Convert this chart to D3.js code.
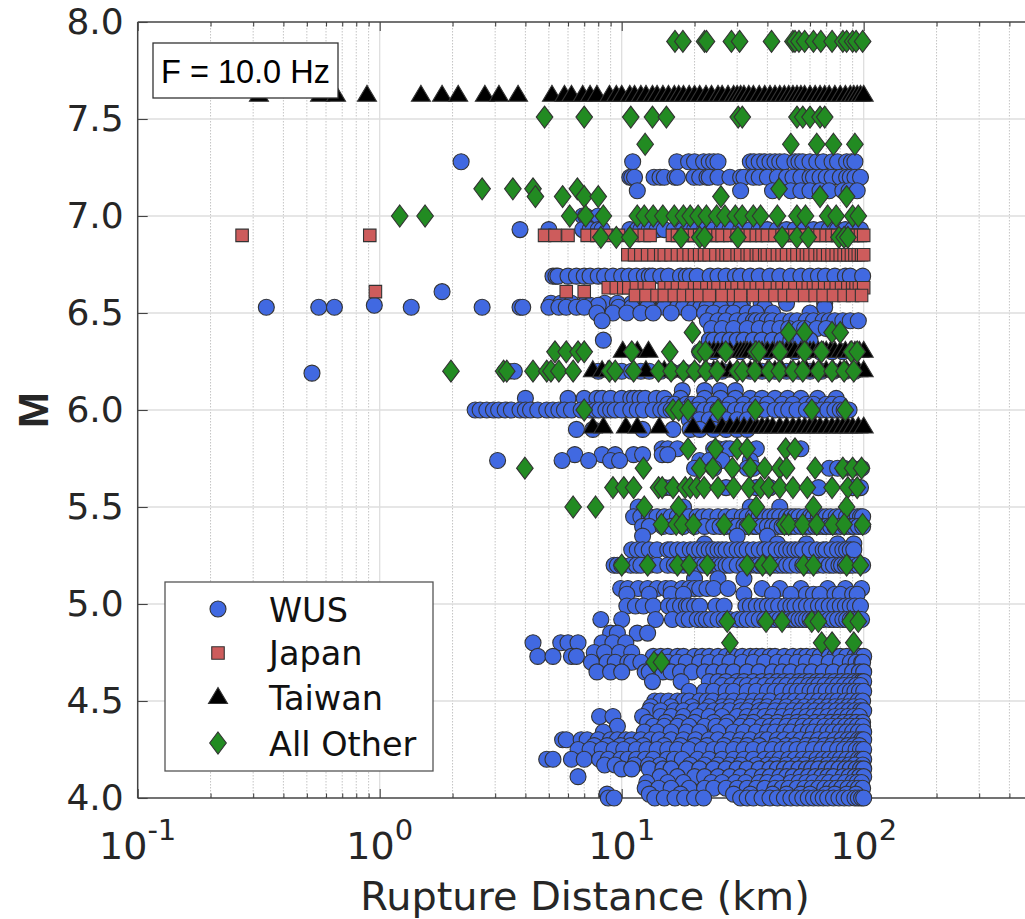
<!DOCTYPE html>
<html lang="en">

<head>
  <meta charset="utf-8">
  <title>Magnitude vs rupture distance</title>
  <script src="https://cdn.jsdelivr.net/npm/d3@7"></script>
  <style>
    body { margin: 0; background: #fff; }
    svg { display: block; }
    text { fill: #262626; font-family: "DejaVu Sans", sans-serif; }
  </style>
</head>

<body>
  <script>

    // Tick values and labels
    const xMajor = [0.1, 1, 10, 100];
    const xExponents = ["-1", "0", "1", "2"];
    const xMinor = [0.2, 0.3, 0.4, 0.5, 0.6, 0.7, 0.8, 0.9, 2, 3, 4, 5, 6, 7, 8, 9, 20, 30, 40, 50, 60, 70, 80, 90, 200, 300, 400, 500];
    const yTicks = [4, 4.5, 5, 5.5, 6, 6.5, 7, 7.5, 8];

    const legendNames = ["WUS", "Japan", "Taiwan", "All Other"];

    // One row per magnitude: [M, [rupture distances in km]]
    const wusRows = [
      [7.28, [2.17, 11.1, 16.9, 18.9, 20, 21.8, 23, 24, 25, 34, 35.2, 37, 39, 41, 43, 45, 47, 52, 54, 56, 60, 64, 68, 74, 78, 85, 89, 92]],
      [7.2, [10.8, 11, 11.3, 13.6, 14.4, 15, 16.6, 17, 19.9, 21, 22.5, 23, 25, 28, 31, 32, 35, 37, 40, 44, 48, 51, 55, 60, 62, 66, 70, 74, 80, 85, 88, 92, 97]],
      [7.13, [11.6, 31, 42, 50, 55, 60, 66, 72, 82, 87, 94]],
      [7, [6.9, 7.1, 8]],
      [6.93, [3.8, 5, 6.9, 7.4, 8, 8.3, 10.8, 11.6, 12, 13, 14, 15, 16.5, 18, 20, 22, 24, 26, 28, 31, 34, 37, 40, 44, 48, 52, 57, 62, 67, 72, 78, 84, 90, 97]],
      [6.69, [5.2, 5.35, 5.45, 6, 6.5, 7, 7.4, 8, 8.5, 9.2, 10, 10.7, 11.5, 12.4, 13, 13.4, 14.5, 15.6, 17.5, 18.5, 19.2, 20.5, 23.2, 25, 27, 29.5, 31, 34, 37, 41, 45, 50, 55, 60, 65, 69.5, 76, 84, 88, 99]],
      [6.61, [1.81]],
      [6.55, [5.1, 5.6, 6.2, 7.1, 8.5, 9.6, 11, 12.8, 15, 17, 18.3, 22, 23.5, 27.5, 31.5, 37.7, 48, 69]],
      [6.54, [0.95, 7.4, 8]],
      [6.53, [0.34, 0.56, 0.65, 1.35, 2.65, 3.8, 3.9, 5, 5.5, 5.9, 6.5, 7, 9.7, 11, 12.8, 15, 17, 18, 20, 21.2, 22.5, 25.6, 31, 39, 69]],
      [6.5, [7.9, 9.2, 10.5, 12, 13.5, 16, 19, 22, 24, 27, 29, 33, 36, 42, 60]],
      [6.46, [8.3, 22.6, 25, 27, 30, 32.5, 35, 36, 38, 40, 42, 46, 50, 53, 58, 62, 68, 72, 76, 82, 88, 95]],
      [6.42, [23.5, 26, 29, 33, 37, 41, 45, 49, 54, 57, 64, 70]],
      [6.36, [8.4, 23, 24, 26, 28, 30, 32, 35, 38, 42, 46, 50, 55, 60]],
      [6.3, [21, 24, 27, 31, 35, 40, 45, 52, 58, 66, 74, 82, 90]],
      [6.19, [0.525]],
      [6.2, [3.3, 3.4, 3.6, 8, 9, 10, 11, 12, 13, 14.5, 16, 18, 20, 23, 26, 30, 34, 38, 43, 48, 54, 60, 67, 75, 84, 92]],
      [6.1, [17.8, 22, 25.5, 29.5]],
      [6.06, [4, 6, 7, 7.9, 8.3, 9, 10, 10.9, 11.3, 11.9, 12.5, 13.9, 15, 17.5, 22, 25.6, 29.5, 34, 38, 43, 48.5, 55, 64.5, 77]],
      [6.03, [15.5, 16.5, 18.5, 19.5, 21, 24, 28, 32, 36, 40, 46, 51, 58, 62, 70, 74, 80]],
      [6, [2.48, 2.6, 2.77, 2.95, 3.1, 3.3, 3.5, 3.8, 4, 4.2, 4.5, 4.9, 5.2, 5.5, 5.8, 6.2, 6.8, 7.4, 7.8, 8.1, 8.6, 9, 9.4, 10, 10.9, 11.6, 12.3, 13.5, 14.5, 15.2, 16, 17.2, 18, 19.5, 20.5, 22, 23.5, 25, 27, 29.5, 31.5, 34, 36, 39, 43, 46, 49, 53, 58, 62, 67, 71, 76, 80, 83, 87]],
      [5.95, [19, 21, 23, 25, 27, 30, 33]],
      [5.9, [6.5, 7.6, 12.2, 16.3, 19.2, 21, 24, 27, 30, 33]],
      [5.8, [14.7, 15.5, 17, 24, 25, 27, 28, 36, 55]],
      [5.77, [6.4, 8.3, 9.4, 11.2, 12.2, 14.7, 15.5]],
      [5.74, [3.07, 5.67, 7.3, 9, 9.8, 21, 23, 26, 34]],
      [5.7, [20, 24, 33, 35, 72, 78, 83, 90, 98]],
      [5.6, [15, 16, 27, 36, 41, 65, 90, 97]],
      [5.5, [11.7, 18, 34, 45]],
      [5.45, [11.2, 12, 13, 14, 15, 16, 17, 18, 19, 20.5, 21.7, 23, 25, 27, 29, 31.5, 33, 35, 37, 39, 41, 43, 45, 48, 50, 52, 54, 57, 60, 62, 65, 67, 70, 73, 77, 80, 85, 89, 94, 97, 99]],
      [5.4, [12.2, 13, 14.8, 16, 18, 20, 22, 24, 25.5, 27, 28.5, 30, 32, 33, 35, 36, 38, 40, 42, 44, 46, 48, 50, 52, 55, 57.5, 60, 63, 65, 68, 70, 73, 76, 80, 84, 88, 91, 95, 99]],
      [5.35, [12.2, 30, 40]],
      [5.31, [22, 44, 58, 78, 91]],
      [5.28, [11, 11.6, 12.2, 13, 14, 15.5, 16, 17, 18, 19.2, 20, 21, 22, 23, 24, 25, 26, 27, 28.5, 30, 31.5, 33, 35, 37, 39, 41, 43.5, 46, 48, 50, 52, 54, 56, 60, 64, 68, 70, 74, 78, 82, 85, 88, 91]],
      [5.2, [9.3, 9.6, 10, 10.9, 11.5, 12, 13, 14, 15.5, 16.5, 18, 19.2, 20, 21, 22, 23.2, 24, 25, 26, 27, 28, 30, 32, 34, 36, 37, 38.5, 40, 42, 44, 46, 48, 50, 53, 56, 58, 60, 64, 68, 72, 75, 79, 81, 84, 87, 90, 95, 99]],
      [5.13, [20, 25, 32]],
      [5.08, [9.9, 10.6, 11.7, 12.8, 14, 15.2, 16, 17.8, 19, 20, 21, 22.5, 24, 27.5, 38, 45, 55, 71, 84, 98]],
      [5.05, [10.5, 13, 16, 18, 32, 42, 50, 58, 62, 66, 76, 80, 90, 94]],
      [4.99, [10.5, 11.4, 12.3, 13.5, 15.6, 16.5, 17.5, 18.5, 19, 20, 21, 24.5, 26.5, 32.6, 34, 36, 38, 40, 42, 44.5, 47.6, 50, 52, 55, 58, 61, 65, 68, 72, 76, 80, 84, 88, 92, 97]],
      [4.92, [8.2, 10, 13.8, 16.2, 18, 19, 20.5, 21.5, 22.4, 23.5, 25, 26.5, 28, 30, 31.5, 33, 35, 37, 39, 41, 43, 45, 47, 49, 51, 52, 54, 56, 58, 60, 62, 65, 68, 72, 75, 78, 82, 85, 88, 90, 92, 95, 98]],
      [4.85, [9, 9.6, 11.6, 12.8]],
      [4.8, [4.3, 5.6, 6, 6.6, 8.3, 9.2, 10.4]],
      [4.75, [7.7, 8.5, 9.8, 11]],
      [4.73, [4.5, 5.2, 6.2, 6.5, 13.5, 14.5, 15.5, 17, 18, 20, 21.5, 23, 25, 27, 29, 31.5, 34, 36, 38, 41, 43, 47, 51, 55, 58, 62, 66, 72, 76, 80, 85, 92, 96, 100]],
      [4.7, [7.5, 8.7, 9.4, 10.6, 11, 12, 14, 15.5, 17, 18.5, 21, 23, 25.5, 28, 31.5, 35, 39, 44, 48, 53, 58, 64, 72, 80, 88, 93, 98, 99]],
      [4.65, [7.9, 9, 10, 12.5, 13, 14.8, 16, 17.5, 19.5, 22, 24, 26.5, 29, 33, 37, 42, 46, 50, 56, 61, 68, 75, 84, 90, 96, 100]],
      [4.6, [13.4, 17.6, 23, 25, 27, 30, 32, 35, 38, 41, 44, 47, 50, 54, 57, 60, 64, 67, 72, 76, 81, 86, 91, 95, 98, 100]],
      [4.58, [26, 28.5, 31, 33, 36, 39, 42, 45, 48, 52, 55, 59, 62, 65, 69, 74, 78, 83, 88, 93, 97]],
      [4.55, [19, 22, 24, 27, 29, 33, 36, 40, 43, 46, 50, 53, 56, 60, 63, 67, 70, 75, 79, 84, 88, 92, 96, 100]],
      [4.5, [13.7, 14.5, 15.6, 17, 18, 19, 21, 22.5, 23.8, 26.7, 29, 32, 35, 38, 41, 46, 49, 52, 56, 61, 65, 70, 74, 78, 84, 89, 95, 99]],
      [4.47, [13.2, 16, 19.5, 23, 26, 28, 31, 34, 37, 40, 44, 48, 53, 57, 62, 66, 71, 76, 81, 86, 91, 97]],
      [4.45, [13, 14.5, 16.5, 18, 20, 22, 24, 26, 28, 31, 33, 37, 39, 43, 47, 51, 55, 59, 63, 68, 72, 77, 82, 87, 92, 97, 100]],
      [4.42, [8.1, 9.2, 12.2, 14.5, 16, 18, 20.6, 23, 26, 30, 33, 36, 39, 42, 46, 50, 54, 58, 62, 66, 71, 76, 81, 86, 91, 96]],
      [4.39, [12.8, 15.2, 17.5, 20, 24, 27.5, 32, 35, 40, 44, 49, 53, 57, 63, 68, 73, 78, 83, 88, 93, 99]],
      [4.37, [9.6, 13.5, 15, 17, 19, 22, 24.5, 27, 31, 34, 38, 41, 44, 48, 52, 56, 60, 64, 69, 74, 79, 84, 89, 94, 99]],
      [4.34, [8.4, 12.4, 14, 16, 18.5, 21, 25, 29, 32, 36, 40, 43, 47, 50, 55, 59, 62, 67, 71, 75, 80, 85, 90, 95, 100]],
      [4.3, [5.7, 5.9, 6.8, 7.2, 8, 9, 9.6, 10.4, 11, 12, 13.2, 14.3, 16, 18, 20.2, 23, 25, 28, 31, 34, 38, 40, 44, 47, 51, 55, 60, 65, 70, 76, 81, 86, 90, 95, 98, 100]],
      [4.27, [7.7, 8.7, 9.9, 10.9, 12.3, 15, 17.5, 20, 22.5, 26.5, 30, 33, 37, 43, 48, 52, 58, 63, 69, 74, 80, 86, 91, 96]],
      [4.25, [6.6, 7.4, 8.3, 9.3, 10.2, 11.5, 12.7, 14, 15.5, 17, 19, 21.5, 24, 26, 29, 32, 35, 39, 42, 46, 49, 53, 57, 62, 67, 72, 78, 83, 88, 93, 97, 100]],
      [4.2, [4.9, 5.2, 6.2, 7, 8.1, 8.8, 9.9, 10.6, 11.5, 12.5, 13.5, 15.4, 16.5, 17.8, 20.6, 23, 26, 29, 32, 35, 39, 42, 45, 49, 52, 56, 60, 64, 68, 72, 76, 80, 85, 90, 95, 98, 100]],
      [4.17, [8.5, 9.4, 11.3, 12.9, 14.4, 19.2, 22, 25, 28, 31, 36, 40, 43, 48, 53, 57, 63, 66, 71, 77, 82, 87, 92, 99]],
      [4.15, [10, 11, 13, 14.8, 16, 18.5, 21, 24, 27, 30, 33, 37, 41, 44, 47, 50, 54, 58, 61, 65, 70, 74, 79, 84, 88, 93, 97, 100]],
      [4.11, [6.6, 14.4, 17, 20, 22, 25, 28, 31, 34.5, 38, 41, 45, 48, 51, 55, 59, 63, 67, 71, 75, 82, 87, 92, 96, 100]],
      [4.08, [12.7, 15.5, 18, 23.5, 26, 29.5, 32.5, 37, 40, 44, 50, 54, 58, 62, 68, 72, 78, 84, 90, 94, 98]],
      [4.05, [12.5, 14.2, 16, 19, 22, 24, 27, 30, 33, 36, 39, 43, 46, 49, 53, 57, 61, 65, 69, 73, 77, 81, 86, 91, 95, 99]],
      [4.02, [8.7, 13, 17.5, 29, 34, 42, 48, 55, 60, 70, 76, 85, 93]],
      [4, [8.8, 9.3, 13.7, 15, 16.6, 18.2, 20, 21.8, 31, 33, 35, 38, 41, 44, 47, 50, 53, 56, 59, 62, 65, 68, 71, 75, 79, 83, 87, 92, 95, 98, 100]]
    ];

    const japanRows = [
      [6.9, [0.27, 0.91, 4.8, 5.3, 6, 7.2, 7.9, 8.6, 9.7, 11.2, 12.4, 13.1, 16.2, 17, 18, 19, 20, 21, 22, 23.5, 25, 26, 28, 30, 32, 34, 36, 38, 40, 43, 46, 49, 52, 55, 58, 62, 66, 70, 74, 78, 82, 86, 90, 94, 97, 100]],
      [6.8, [10.6, 11.3, 12, 12.8, 13.6, 14.5, 15, 16, 17, 18, 19, 20, 21, 22, 23, 24.5, 26, 27, 28, 30, 31, 33, 34, 36, 37, 39, 40, 42, 44, 46, 48, 51, 53, 56, 58, 60, 63, 66, 68, 71, 74, 77, 80, 83, 86, 89, 92, 95, 98, 100]],
      [6.63, [8.8, 9.5, 10.2, 10.7, 11.5, 12.4, 13, 15, 16, 17, 18.2, 20, 21, 22.5, 24, 25, 27, 28.5, 30, 32, 34, 36, 38, 41, 44, 46, 49, 52, 56, 59, 62, 65, 69, 73, 77, 81, 86, 90, 93, 96, 100]],
      [6.61, [0.96, 5.9, 7]],
      [6.59, [11.4, 12.6, 14, 15, 16.5, 18, 19.5, 21, 23, 26, 29, 31, 35, 39, 43, 47, 51, 57, 63, 68, 75, 83, 90, 98]]
    ];

    const taiwanRows = [
      [7.62, [0.317, 0.567, 0.66, 0.886, 1.48, 1.81, 2.11, 2.72, 3.11, 3.73, 5.15, 5.8, 6.2, 6.9, 7.4, 7.9, 8.9, 9.5, 10, 10.8, 11.3, 12, 12.6, 13.4, 14, 14.8, 15.6, 16.5, 17.2, 18, 19, 20, 21, 22.3, 23.5, 25, 26, 27.5, 29, 30, 31, 32, 33.5, 35, 37, 39, 41, 43, 45, 47, 49, 51, 53, 55, 57, 60, 63, 66, 69, 72, 76, 80, 84, 88, 91, 94, 97, 100]],
      [6.3, [10.1, 11.6, 12.9, 23, 24, 25, 26, 28, 30, 31, 32, 33, 34, 36, 37, 38, 40, 42, 44, 46, 48, 50, 52, 55, 58, 60, 62, 65, 68, 70, 73, 76, 80, 84, 88, 92, 96, 100]],
      [6.2, [7.6, 8.3, 8.8, 12.6, 15, 16, 18, 20, 22, 24, 26, 28, 30, 32, 34, 37, 40, 43, 46, 50, 54, 58, 62, 66, 70, 75, 80, 85, 90, 95, 100]],
      [5.91, [7.6, 8.4, 10.4, 11.6, 14.3, 19.7, 23.2, 26, 28, 30, 32, 34, 36, 38, 40, 42, 45, 48, 51, 54, 57, 60, 63, 66, 70, 74, 78, 82, 86, 90, 95, 100]]
    ];

    const otherRows = [
      [7.9, [16.6, 17.9, 22, 22.4, 28.4, 30.7, 41.6, 51, 52, 54, 57, 62, 66.5, 74, 82, 85, 90, 93, 99]],
      [7.51, [4.8, 7, 10.9, 13.4, 15.3, 30.3, 31.5, 53, 56, 60, 66, 69]],
      [7.37, [12.5, 50, 64, 75, 92]],
      [7.14, [2.65, 3.55, 4.3, 6.56, 44.7]],
      [7.1, [4.4, 5.7, 7, 8, 25.7, 66, 85]],
      [7, [1.21, 1.54, 6.1, 7.1, 8.4, 11.6, 12.4, 13.5, 14.8, 16.5, 18, 19.2, 20.7, 22.4, 24.7, 26.7, 29.5, 31.5, 35, 37.5, 44, 53, 57.5, 71, 77, 90, 95]],
      [6.89, [8.2, 9.5, 10.8, 17.6, 21, 22, 30.2, 46, 53, 59, 79, 83, 86]],
      [6.4, [19.6, 49, 57, 74, 80]],
      [6.3, [5.3, 5.9, 6.6, 7, 11, 15.8, 21, 22.2, 26.9, 35.8, 36.9, 45, 57, 67, 89, 94]],
      [6.2, [1.97, 3.25, 3.35, 4.3, 4.9, 5.1, 5.5, 6.3, 8.9, 9.4, 11.2, 14.2, 16, 18, 20, 22.3, 24.8, 30, 31.6, 35.5, 40.7, 44.8, 51, 56, 65, 74, 83, 91]],
      [6, [7, 16.3, 17.2, 18.8, 25, 35.7, 61, 84]],
      [5.8, [18.8, 24.4, 30, 33, 47.6, 52]],
      [5.7, [3.98, 12.3, 21, 23.8, 28.7, 34, 39, 45, 48, 63, 82, 90, 98]],
      [5.6, [9.2, 10.2, 11.2, 14.2, 14.7, 16.3, 18.3, 19.2, 20.4, 21.9, 25, 29, 33.6, 37.5, 40.5, 45, 51, 58.5, 74, 86, 94]],
      [5.5, [6.3, 7.8, 12.4, 17.2, 36, 62, 85]],
      [5.41, [14.6, 16.8, 17.8, 19.8, 26.5, 33.5, 47, 49, 56, 64, 74.5, 83, 99]],
      [5.2, [10, 12.8, 17, 19, 22.6, 33, 38.2, 41, 56.5, 62, 85, 97]],
      [4.91, [27.3, 39.5, 46, 61, 65, 88, 95]],
      [4.8, [28, 67, 74, 91]],
      [4.7, [13.6, 14.6]]
    ];

    // Plot area, the x axis runs past the right edge of the page like in the original
    const w = 1025;
    const h = 919;
    const xLeft = 137.7;
    const yTop = 22;
    const yBottom = 798;
    const decade = 242;

    const svg = d3.select("body")
      .append("svg")
      .attr("width", w)
      .attr("height", h);

    const x = d3.scaleLog()
      .domain([0.1, 10000])
      .range([xLeft, xLeft + 5 * decade]);

    const y = d3.scaleLinear()
      .domain([4, 8])
      .range([yBottom, yTop]);

    // Gridlines
    const grid = svg.append("g");
    grid.selectAll(".minor")
      .data(xMinor)
      .enter()
      .append("line")
      .attr("x1", d => x(d))
      .attr("x2", d => x(d))
      .attr("y1", yTop)
      .attr("y2", yBottom)
      .attr("stroke", "#c4c4c4")
      .attr("stroke-width", 1)
      .attr("stroke-dasharray", "1.5,1.5");
    grid.selectAll(".major")
      .data(xMajor.slice(1))
      .enter()
      .append("line")
      .attr("x1", d => x(d))
      .attr("x2", d => x(d))
      .attr("y1", yTop)
      .attr("y2", yBottom)
      .attr("stroke", "#dedede")
      .attr("stroke-width", 1.3);
    grid.selectAll(".horizontal")
      .data(yTicks.slice(1, -1))
      .enter()
      .append("line")
      .attr("x1", xLeft)
      .attr("x2", w)
      .attr("y1", d => y(d))
      .attr("y2", d => y(d))
      .attr("stroke", "#dedede")
      .attr("stroke-width", 1.3);

    // Axes, ticks point into the plot and are drawn on the top edge too
    function styleAxis(g) {
      g.selectAll("path").remove();
      g.selectAll("line").attr("stroke", "#444").attr("stroke-width", 1.1);
      g.selectAll("text").style("font-size", "36px").attr("fill", "#262626");
    }

    const xAxisMajor = d3.axisBottom(x).tickValues(xMajor).tickSize(-9).tickFormat("");
    const xAxisMinor = d3.axisBottom(x).tickValues(xMinor).tickSize(-4.5).tickFormat("");
    const xTopMajor = d3.axisTop(x).tickValues(xMajor).tickSize(-9).tickFormat("");
    const xTopMinor = d3.axisTop(x).tickValues(xMinor).tickSize(-4.5).tickFormat("");

    svg.append("g").attr("transform", `translate(0,${yBottom})`).call(xAxisMajor).call(styleAxis);
    svg.append("g").attr("transform", `translate(0,${yBottom})`).call(xAxisMinor).call(styleAxis);
    svg.append("g").attr("transform", `translate(0,${yTop})`).call(xTopMajor).call(styleAxis);
    svg.append("g").attr("transform", `translate(0,${yTop})`).call(xTopMinor).call(styleAxis);

    const yAxis = d3.axisLeft(y)
      .tickValues(yTicks)
      .tickSize(-10)
      .tickPadding(14)
      .tickFormat(d3.format(".1f"));
    svg.append("g").attr("transform", `translate(${xLeft},0)`).call(yAxis).call(styleAxis);

    // Axis frame lines
    const frame = svg.append("g").attr("stroke", "#444").attr("stroke-width", 1.5);
    frame.append("line").attr("x1", xLeft).attr("x2", w).attr("y1", yTop).attr("y2", yTop);
    frame.append("line").attr("x1", xLeft).attr("x2", w).attr("y1", yBottom).attr("y2", yBottom);
    frame.append("line").attr("x1", xLeft).attr("x2", xLeft).attr("y1", yTop).attr("y2", yBottom);

    // Log tick labels with a raised exponent
    const xLabels = svg.append("g");
    xMajor.forEach(function (d, i) {
      const t = xLabels.append("text")
        .attr("x", x(d))
        .attr("y", 859)
        .attr("text-anchor", "middle")
        .style("font-size", "38px");
      t.append("tspan").text("10");
      t.append("tspan")
        .attr("dy", -19)
        .style("font-size", "29px")
        .text(xExponents[i]);
    });

    svg.append("text")
      .attr("x", 585)
      .attr("y", 910)
      .attr("text-anchor", "middle")
      .style("font-size", "39.8px")
      .text("Rupture Distance (km)");

    svg.append("text")
      .attr("transform", "translate(48,410) rotate(-90)")
      .attr("text-anchor", "middle")
      .style("font-family", '"Liberation Sans", sans-serif')
      .style("font-weight", "bold")
      .style("font-size", "43px")
      .text("M");

    // Marker shapes
    const diamond = {
      draw(ctx) {
        ctx.moveTo(0, -11);
        ctx.lineTo(8.3, 0);
        ctx.lineTo(0, 11);
        ctx.lineTo(-8.3, 0);
        ctx.closePath();
      }
    };
    const triangle = {
      draw(ctx) {
        ctx.moveTo(0, -10.5);
        ctx.lineTo(9.5, 5.5);
        ctx.lineTo(-9.5, 5.5);
        ctx.closePath();
      }
    };

    const markers = [
      { rows: wusRows, path: d3.symbol(d3.symbolCircle, Math.PI * 8 * 8)(), fill: "#4169e1" },
      { rows: japanRows, path: d3.symbol(d3.symbolSquare, 12.5 * 12.5)(), fill: "#cd5c5c" },
      { rows: taiwanRows, path: d3.symbol(triangle)(), fill: "#000" },
      { rows: otherRows, path: d3.symbol(diamond)(), fill: "#228b22" }
    ];

    markers.forEach(function (m) {
      const points = m.rows.flatMap(r => r[1].map(d => [d, r[0]]));
      svg.append("g")
        .selectAll("path")
        .data(points)
        .enter()
        .append("path")
        .attr("d", m.path)
        .attr("transform", d => `translate(${x(d[0])},${y(d[1])})`)
        .attr("fill", m.fill)
        .attr("stroke", "#333")
        .attr("stroke-width", 1.1);
    });

    // F label box
    svg.append("rect")
      .attr("x", 153)
      .attr("y", 43)
      .attr("width", 185)
      .attr("height", 55)
      .attr("fill", "#fff")
      .attr("stroke", "#333")
      .attr("stroke-width", 1.3);
    svg.append("text")
      .attr("x", 245.5)
      .attr("y", 83)
      .attr("text-anchor", "middle")
      .style("font-family", '"Liberation Sans", sans-serif')
      .style("font-size", "32.5px")
      .style("fill", "#000")
      .text("F = 10.0 Hz");

    // Legend
    const legend = svg.append("g");
    legend.append("rect")
      .attr("x", 165)
      .attr("y", 582)
      .attr("width", 268)
      .attr("height", 189)
      .attr("fill", "#fff")
      .attr("stroke", "#555")
      .attr("stroke-width", 1.3);
    const legendY = [609, 653, 698, 743];
    const legendBase = [622, 665, 710, 756];
    markers.forEach(function (m, i) {
      legend.append("path")
        .attr("d", m.path)
        .attr("transform", `translate(218,${legendY[i]})`)
        .attr("fill", m.fill)
        .attr("stroke", "#333")
        .attr("stroke-width", 1.1);
      legend.append("text")
        .attr("x", 269)
        .attr("y", legendBase[i])
        .style("font-size", "33.5px")
        .style("fill", "#111")
        .text(legendNames[i]);
    });

  </script>
</body>

</html>
